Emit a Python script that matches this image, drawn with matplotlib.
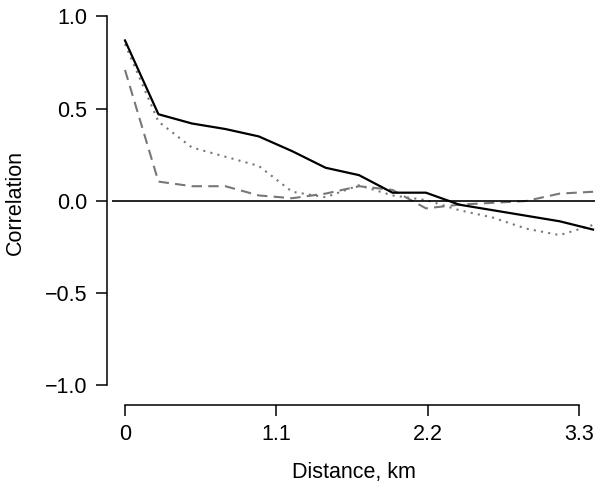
import numpy as np
import matplotlib
matplotlib.use("Agg")
import matplotlib.pyplot as plt

plt.rcParams["font.family"] = ["Liberation Sans", "DejaVu Sans"]

# distance bins (km)
distance = [0.0, 0.243, 0.486, 0.729, 0.972, 1.215, 1.458, 1.701,
            1.944, 2.187, 2.430, 2.673, 2.916, 3.159, 3.402]

# correlation curves
corr_solid = [0.87, 0.47, 0.42, 0.39, 0.35, 0.27, 0.18, 0.14,
              0.045, 0.045, -0.02, -0.05, -0.08, -0.11, -0.155]
corr_dotted = [0.85, 0.43, 0.29, 0.24, 0.19, 0.05, 0.02, 0.085,
               0.03, 0.005, -0.05, -0.09, -0.15, -0.185, -0.13]
corr_dashed = [0.71, 0.105, 0.08, 0.08, 0.03, 0.015, 0.04, 0.08,
               0.06, -0.04, -0.02, -0.01, 0.0, 0.04, 0.05]

yticks = [-1.0, -0.5, 0.0, 0.5, 1.0]
ytick_labels = ["\u22121.0", "\u22120.5", "0.0", "0.5", "1.0"]
xticks = [0, 1.1, 2.2, 3.3]
xtick_labels = ["0", "1.1", "2.2", "3.3"]

fig = plt.figure(figsize=(6.0, 4.93), dpi=100)
ax = fig.add_axes([112 / 600, 1 - 395 / 493, (595 - 112) / 600, (395 - 10) / 493])

ax.plot(distance, corr_dashed, color="#777777", lw=1.5, linestyle=(0, (5, 3)))
ax.plot(distance, corr_dotted, color="#777777", lw=1.5, linestyle=(0, (1, 2.5)))
ax.plot(distance, corr_solid, color="black", lw=1.6)
ax.axhline(0, color="black", lw=1.2)

ax.set_xlim(-0.0945, 3.416)
ax.set_ylim(-1.0515, 1.035)

for side in ["top", "right"]:
    ax.spines[side].set_visible(False)
ax.spines["left"].set_position(("outward", 3.6))
ax.spines["bottom"].set_position(("outward", 7.2))
ax.spines["left"].set_bounds(-1, 1)
ax.spines["bottom"].set_bounds(0, 3.3)
ax.spines["left"].set_linewidth(1.1)
ax.spines["bottom"].set_linewidth(1.1)

ax.set_yticks(yticks)
ax.set_yticklabels(ytick_labels)
ax.set_xticks(xticks)
ax.set_xticklabels(xtick_labels)
ax.tick_params(axis="both", length=8, width=1.1, labelsize=15.5, pad=6)

ax.set_xlabel("Distance, km", fontsize=15.5, labelpad=12)
ax.set_ylabel("Correlation", fontsize=15.5, labelpad=14)

fig.savefig("out.png", dpi=100)
